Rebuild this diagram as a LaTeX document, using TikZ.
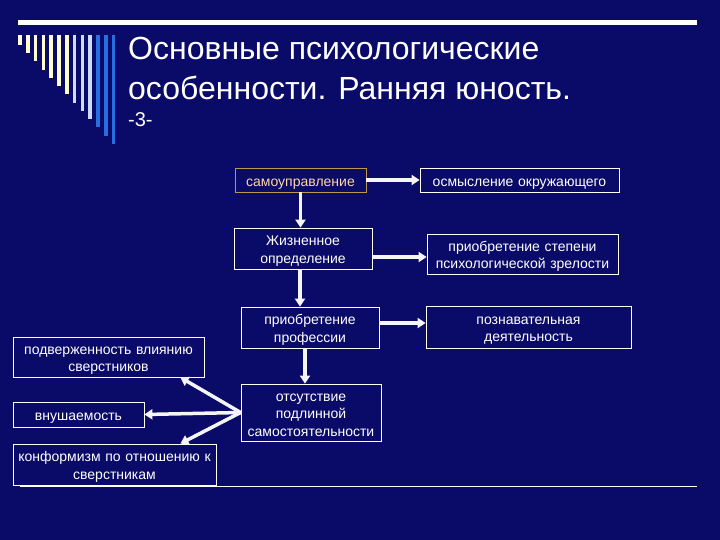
\documentclass[tikz,border=0pt]{standalone}
\usepackage{fontspec}
\setmainfont{Liberation Sans}
\usetikzlibrary{arrows.meta}

\definecolor{slidebg}{RGB}{10,10,105}
\definecolor{arrowwhite}{RGB}{245,245,245}
\definecolor{stripeyellow}{RGB}{255,255,205}
\definecolor{stripelight}{RGB}{205,220,255}
\definecolor{stripeblue}{RGB}{40,110,225}
\definecolor{hilite}{RGB}{255,215,160}
\definecolor{hiliteborder}{RGB}{190,150,80}

\begin{document}
\begin{tikzpicture}[
    x=1pt, y=-1pt,
    every node/.style={text=white},
    infobox/.style={
        draw=white, line width=0.8pt, fill=slidebg,
        align=center, inner sep=0pt,
        font=\fontsize{14}{17.5}\selectfont,
        % struts so lowercase text sits like in the slide
        execute at begin node={\noindent\rule{0pt}{15.2pt}},
        execute at end node={\rule[-3pt]{0pt}{3pt}}
    },
    boxsize/.style 2 args={text width=#1, minimum width=#1, minimum height=#2},
    arrow/.style={-{Triangle[width=10pt,length=8pt]}, line width=3.5pt, draw=arrowwhite},
    % decorative stripes on the left of the title
    stripe/.style={line width=3.5pt},
    titlefont/.style={font=\fontsize{32}{38}\selectfont, inner sep=0pt, anchor=base west},
]
    \fill[slidebg] (0,0) rectangle (720,540);
    \useasboundingbox (0,0) rectangle (720,540);

    % top bar and stripes
    \fill[white] (18,20) rectangle (697,25);
    \foreach \i/\col in {0/stripeyellow, 1/stripeyellow, 2/stripeyellow, 3/stripeyellow,
                         4/stripeyellow, 5/stripeyellow, 6/stripeyellow, 7/stripelight,
                         8/stripelight, 9/stripelight, 10/stripeblue, 11/stripeblue, 12/stripeblue}
      \draw[stripe, draw=\col] ({20+7.8*\i},35) -- ({20+7.8*\i},{45+8.25*\i});

    % title
    \node[titlefont] (title1) at (128,60) {Основные психологические};
    \node[titlefont] (title2) at (128,100) {особенности. Ранняя юность.};
    \node[titlefont, font=\fontsize{20}{24}\selectfont] (num) at (128,127) {-3-};

    % central column
    \node[infobox, boxsize={131pt}{24pt}, draw=hiliteborder, text=hilite]
        (self) at (300.5,180) {самоуправление};
    \node[infobox, boxsize={138pt}{41pt}] (life) at (303,248.5) {Жизненное\\определение};
    \node[infobox, boxsize={138pt}{41pt}] (prof) at (310,327.5) {приобретение\\профессии};
    \node[infobox, boxsize={140pt}{57pt}]
        (lack) at (311,412.5) {отсутствие\\подлинной\\самостоятельности};

    % right column
    \node[infobox, boxsize={199pt}{24pt}] (sense) at (519.5,180) {осмысление окружающего};
    \node[infobox, boxsize={191pt}{40pt}]
        (mature) at (522.5,254) {приобретение степени\\психологической зрелости};
    \node[infobox, boxsize={205pt}{42pt}] (cogn) at (528.5,327) {познавательная\\деятельность};

    % left column
    \node[infobox, boxsize={191pt}{40pt}] (peers) at (108.5,357) {подверженность влиянию\\сверстников};
    \node[infobox, boxsize={131pt}{25pt}] (sugg) at (78.5,414.5) {внушаемость};
    \node[infobox, boxsize={203pt}{41pt}] (conf) at (114.5,464.5) {конформизм по отношению к\\сверстникам};

    % bottom rule
    \draw[white, line width=1pt] (20,486) -- (697,486);

    % vertical arrows
    \draw[arrow] (self.south) -- (self.south |- life.north);
    \draw[arrow] ([xshift=-3pt]life.south) -- ([xshift=-3pt]life.south |- prof.north);
    \draw[arrow] ([xshift=-5pt]prof.south) -- ([xshift=-5pt]prof.south |- lack.north);

    % horizontal arrows
    \draw[arrow] (self.east) -- (sense.west);
    \draw[arrow] ([yshift=-8.5pt]life.east) -- ([yshift=-8.5pt]life.east -| mature.west);
    \draw[arrow] ([yshift=4.5pt]prof.east) -- ([yshift=4.5pt]prof.east -| cogn.west);

    % fan to the left
    \draw[arrow] (lack.west) -- ([xshift=-24pt]peers.south east);
    \draw[arrow] (lack.west) -- (sugg.east);
    \draw[arrow] (lack.west) -- ([xshift=-36pt]conf.north east);
\end{tikzpicture}
\end{document}
